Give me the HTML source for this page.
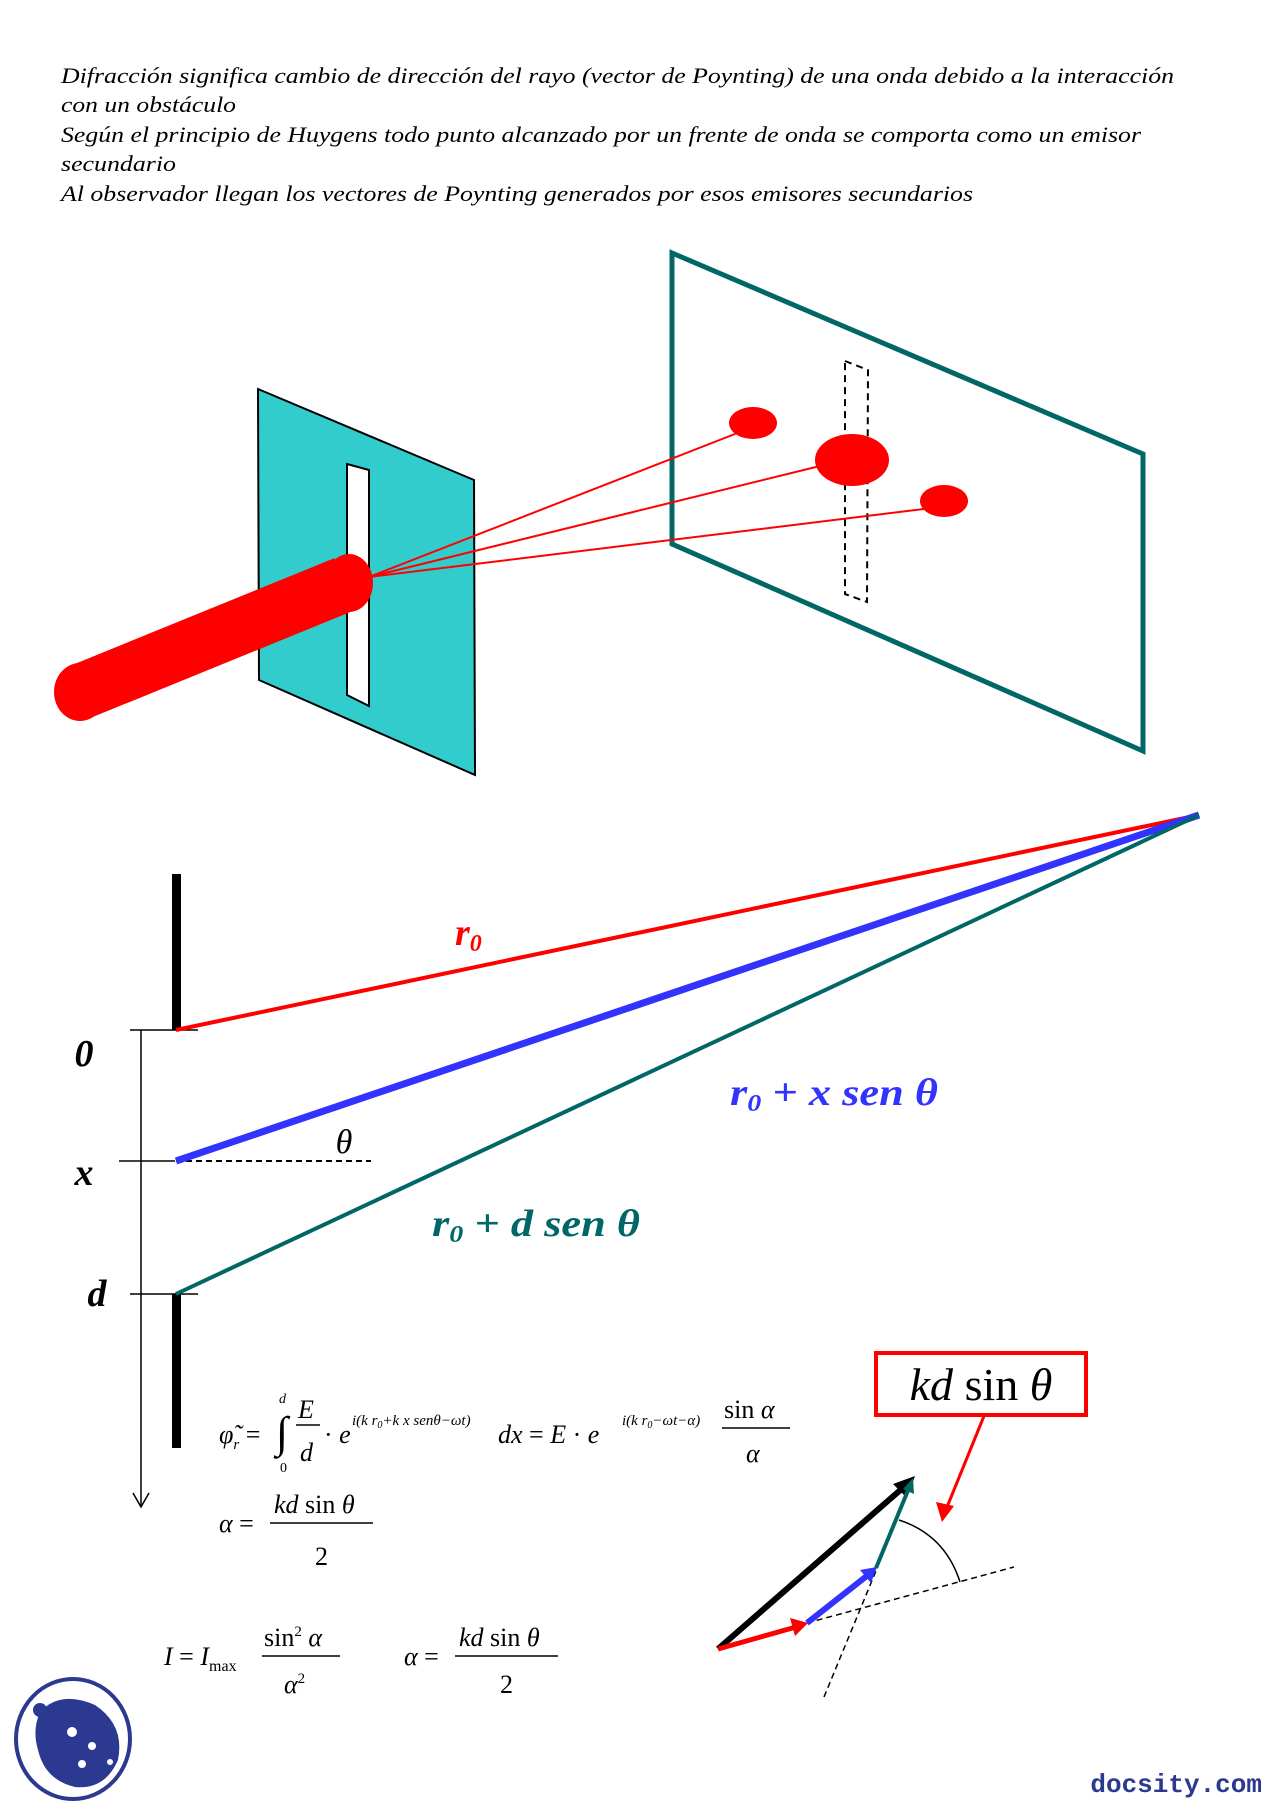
<!DOCTYPE html>
<html><head><meta charset="utf-8"><style>html,body{margin:0;padding:0;background:#fff}svg{display:block}</style></head>
<body>
<svg width="1280" height="1811" viewBox="0 0 1280 1811" xmlns="http://www.w3.org/2000/svg" font-family="Liberation Serif, serif">
<g font-style="italic" font-size="22" fill="#000">
<text x="61" y="83" textLength="1113" lengthAdjust="spacingAndGlyphs">Difracción significa cambio de dirección del rayo (vector de Poynting) de una onda debido a la interacción</text>
<text x="61" y="112" textLength="175" lengthAdjust="spacingAndGlyphs">con un obstáculo</text>
<text x="61" y="142" textLength="1080" lengthAdjust="spacingAndGlyphs">Según el principio de Huygens todo punto alcanzado por un frente de onda se comporta como un emisor</text>
<text x="61" y="171" textLength="115" lengthAdjust="spacingAndGlyphs">secundario</text>
<text x="61" y="201" textLength="912" lengthAdjust="spacingAndGlyphs">Al observador llegan los vectores de Poynting generados por esos emisores secundarios</text>
</g>
<polygon points="258,389 474,480 475,775 259,680" fill="#33cccc" stroke="#000" stroke-width="2"/>
<polygon points="347,464 369,470 369,706 347,695" fill="#fff" stroke="#000" stroke-width="2"/>
<polygon points="672,253 1143,454 1143,751 672,544" fill="none" stroke="#006666" stroke-width="5"/>
<polygon points="845,361 868,370 867,602 845,594" fill="none" stroke="#000" stroke-width="2" stroke-dasharray="7,5"/>
<ellipse cx="753" cy="423" rx="24" ry="16" fill="#f00"/>
<ellipse cx="852" cy="460" rx="37" ry="26" fill="#f00"/>
<ellipse cx="944" cy="501" rx="24" ry="16" fill="#f00"/>
<g stroke="#f00" stroke-width="2">
<line x1="369" y1="577" x2="740" y2="432"/>
<line x1="369" y1="577" x2="820" y2="466"/>
<line x1="369" y1="577" x2="932" y2="508"/>
</g>
<line x1="80" y1="692" x2="345" y2="584" stroke="#f00" stroke-width="56"/>
<ellipse cx="80" cy="692" rx="26" ry="29" fill="#f00"/>
<ellipse cx="349" cy="583" rx="24" ry="29" fill="#f00"/>
<rect x="172" y="874" width="9" height="156" fill="#000"/>
<rect x="172" y="1294" width="9" height="154" fill="#000"/>
<line x1="141" y1="1030" x2="141" y2="1505" stroke="#000" stroke-width="1.5"/>
<path d="M133,1493 L141,1507 L149,1493" fill="none" stroke="#000" stroke-width="1.5"/>
<g stroke="#000" stroke-width="1.5">
<line x1="130" y1="1030" x2="198" y2="1030"/>
<line x1="119" y1="1161" x2="175" y2="1161"/>
<line x1="130" y1="1294" x2="198" y2="1294"/>
</g>
<line x1="176" y1="1161" x2="371" y2="1161" stroke="#000" stroke-width="2" stroke-dasharray="6,4"/>
<line x1="176" y1="1030" x2="1199" y2="815" stroke="#f00" stroke-width="4"/>
<line x1="176" y1="1161" x2="1199" y2="815" stroke="#3333ff" stroke-width="7"/>
<line x1="176" y1="1294" x2="1199" y2="815" stroke="#006666" stroke-width="4"/>
<g font-weight="bold" font-style="italic" font-size="38">
<text x="84" y="1066" text-anchor="middle">0</text>
<text x="84" y="1185" text-anchor="middle">x</text>
<text x="97" y="1306" text-anchor="middle">d</text>
<text x="455" y="945" fill="#f00">r<tspan font-size="24" dy="6">0</tspan></text>
<text x="730" y="1105" fill="#3333ff" textLength="208" lengthAdjust="spacingAndGlyphs">r<tspan font-size="24" dy="6">0</tspan><tspan dy="-6"> + x sen θ</tspan></text>
<text x="432" y="1236" fill="#006666" textLength="208" lengthAdjust="spacingAndGlyphs">r<tspan font-size="24" dy="6">0</tspan><tspan dy="-6"> + d sen θ</tspan></text>
</g>
<text x="344" y="1153" text-anchor="middle" font-style="italic" font-size="34">θ</text>
<g font-size="26">
<text x="219" y="1443" font-style="italic">φ̃<tspan font-size="15" dy="6">r</tspan><tspan dy="-6" font-style="normal"> =</tspan></text>
<text x="276" y="1447" font-size="44">∫</text>
<text x="279" y="1403" font-size="14" font-style="italic">d</text>
<text x="280" y="1472" font-size="14">0</text>
<text x="298" y="1418" font-style="italic">E</text>
<line x1="296" y1="1425" x2="320" y2="1425" stroke="#000" stroke-width="1.5"/>
<text x="300" y="1461" font-style="italic">d</text>
<text x="324" y="1443">· <tspan font-style="italic">e</tspan></text>
<text x="352" y="1425" font-size="15" font-style="italic">i(k r<tspan font-size="10" dy="3">0</tspan><tspan dy="-3">+k x senθ−ωt)</tspan></text>
<text x="498" y="1443" font-style="italic">dx <tspan font-style="normal">=</tspan> E <tspan font-style="normal">·</tspan> e</text>
<text x="622" y="1425" font-size="15" font-style="italic">i(k r<tspan font-size="10" dy="3">0</tspan><tspan dy="-3">−ωt−α)</tspan></text>
<text x="724" y="1418">sin <tspan font-style="italic">α</tspan></text>
<line x1="722" y1="1428" x2="790" y2="1428" stroke="#000" stroke-width="1.5"/>
<text x="746" y="1462" font-style="italic">α</text>
<text x="219" y="1532" font-style="italic">α <tspan font-style="normal">=</tspan></text>
<text x="274" y="1513"><tspan font-style="italic">kd</tspan> sin <tspan font-style="italic">θ</tspan></text>
<line x1="270" y1="1523" x2="373" y2="1523" stroke="#000" stroke-width="1.5"/>
<text x="315" y="1565">2</text>
<text x="164" y="1665" font-style="italic">I <tspan font-style="normal">=</tspan> I<tspan font-size="16" font-style="normal" dy="6">max</tspan></text>
<text x="264" y="1646">sin<tspan font-size="15" dy="-10">2</tspan><tspan dy="10" font-style="italic"> α</tspan></text>
<line x1="262" y1="1656" x2="340" y2="1656" stroke="#000" stroke-width="1.5"/>
<text x="284" y="1693" font-style="italic">α<tspan font-size="15" dy="-10" font-style="normal">2</tspan></text>
<text x="404" y="1665" font-style="italic">α <tspan font-style="normal">=</tspan></text>
<text x="459" y="1646"><tspan font-style="italic">kd</tspan> sin <tspan font-style="italic">θ</tspan></text>
<line x1="455" y1="1656" x2="558" y2="1656" stroke="#000" stroke-width="1.5"/>
<text x="500" y="1693">2</text>
</g>
<rect x="876" y="1353" width="210" height="62" fill="#fff" stroke="#f00" stroke-width="4"/>
<text x="981" y="1400" text-anchor="middle" font-size="46" font-style="italic">kd <tspan font-style="normal">sin</tspan> θ</text>
<line x1="984" y1="1416" x2="945" y2="1512" stroke="#f00" stroke-width="3"/>
<path d="M936,1502 L942,1522 L954,1506 Z" fill="#f00"/>
<line x1="807" y1="1623" x2="1014" y2="1567" stroke="#000" stroke-width="1.5" stroke-dasharray="6,4"/>
<line x1="824" y1="1697" x2="878" y2="1566" stroke="#000" stroke-width="1.5" stroke-dasharray="6,4"/>
<path d="M899,1520 Q945,1535 960,1582" fill="none" stroke="#000" stroke-width="1.5"/>
<line x1="718" y1="1649" x2="905" y2="1486" stroke="#000" stroke-width="6"/>
<path d="M893,1484 L915,1476 L907,1498 Z" fill="#000"/>
<line x1="718" y1="1649" x2="796" y2="1627" stroke="#f00" stroke-width="5"/>
<path d="M790,1618 L808,1623 L795,1636 Z" fill="#f00"/>
<line x1="807" y1="1623" x2="868" y2="1575" stroke="#3333ff" stroke-width="6"/>
<path d="M860,1570 L877,1567 L871,1583 Z" fill="#3333ff"/>
<line x1="876" y1="1568" x2="909" y2="1488" stroke="#006666" stroke-width="4"/>
<path d="M903,1489 L913,1478 L914,1494 Z" fill="#006666"/>
<ellipse cx="73" cy="1739" rx="57" ry="60" fill="#fff" stroke="#2b3990" stroke-width="4"/>
<path d="M40,1712 Q60,1690 95,1705 Q125,1725 118,1760 Q105,1790 75,1787 Q45,1780 38,1750 Q32,1730 40,1712 Z" fill="#2b3990"/>
<circle cx="40" cy="1710" r="7" fill="#2b3990"/>
<circle cx="72" cy="1732" r="5" fill="#fff"/>
<circle cx="92" cy="1746" r="4" fill="#fff"/>
<circle cx="82" cy="1764" r="4" fill="#fff"/>
<circle cx="110" cy="1762" r="3" fill="#fff"/>
<text x="1262" y="1792" text-anchor="end" font-family="Liberation Mono, monospace" font-weight="bold" font-size="26" fill="#2b3990">docsity.com</text>
</svg>
</body></html>
